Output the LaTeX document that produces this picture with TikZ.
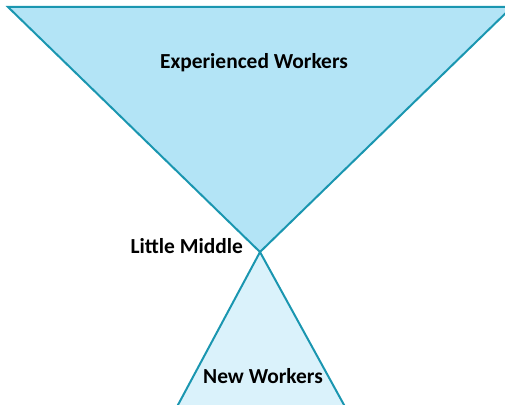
\documentclass[tikz,border=0pt]{standalone}
\usepackage{fontspec}
\setmainfont{Carlito}
\definecolor{tealline}{HTML}{1A96B0}
\definecolor{topfill}{HTML}{B3E4F6}
\definecolor{lowfill}{HTML}{DAF2FB}
\tikzset{
	funnel/.style={draw=tealline,line width=2bp,line join=miter},
	label/.style={font=\fontsize{21.5}{24}\selectfont\bfseries,inner sep=0pt}
}
\begin{document}
\begin{tikzpicture}[x=1bp,y=1bp]
	\clip (0,0) rectangle (505,404);
	\useasboundingbox (0,0) rectangle (505,404);
	%Tam giac tren
	\coordinate (apex) at (260,152);
	\draw[funnel,fill=topfill] (8,397) -- (512,397) -- (apex) -- cycle;
	%Tam giac duoi
	\draw[funnel,fill=lowfill] (apex) -- (344.6,-2) -- (177.4,-2) -- cycle;
	%Nhan
	\node[label,anchor=base] (exp) at (254,336) {Experienced Workers};
	\node[label,anchor=base east] (mid) at (243,151) {Little Middle};
	\node[label,anchor=base] (new) at (263,21) {New Workers};
\end{tikzpicture}
\end{document}
